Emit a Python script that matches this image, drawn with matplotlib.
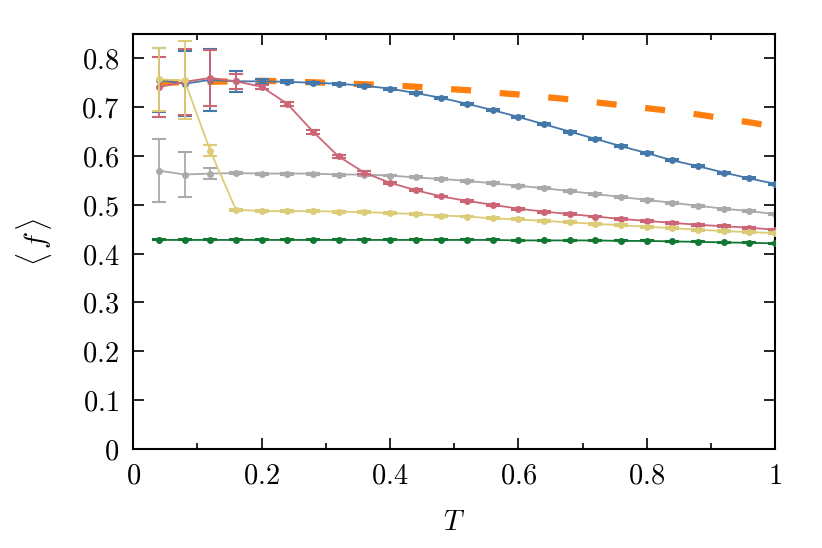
import numpy as np
import matplotlib
matplotlib.use("Agg")
import matplotlib.pyplot as plt
from matplotlib.ticker import MultipleLocator, FuncFormatter

plt.rcParams['mathtext.fontset'] = 'cm'
plt.rcParams['font.family'] = 'serif'

# temperature grid
T = [0.04, 0.08, 0.12, 0.16, 0.20, 0.24, 0.28, 0.32, 0.36, 0.40, 0.44, 0.48, 0.52,
     0.56, 0.60, 0.64, 0.68, 0.72, 0.76, 0.80, 0.84, 0.88, 0.92, 0.96, 1.00]

# theory curve (orange dashed)
f_theory = [0.750, 0.751, 0.752, 0.753, 0.754, 0.753, 0.751, 0.749, 0.747, 0.745, 0.742,
            0.738, 0.735, 0.730, 0.726, 0.721, 0.716, 0.710, 0.704, 0.698, 0.692, 0.685,
            0.677, 0.669, 0.660]

f_blue = [0.756, 0.748, 0.756, 0.753, 0.753, 0.752, 0.750, 0.748, 0.744, 0.738, 0.729,
          0.719, 0.707, 0.694, 0.680, 0.665, 0.650, 0.635, 0.620, 0.606, 0.591, 0.579,
          0.566, 0.554, 0.543]
e_blue = [0.065, 0.067, 0.064, 0.022, 0.005, 0.003, 0.002, 0.002, 0.002, 0.002, 0.002,
          0.002, 0.002, 0.002, 0.002, 0.002, 0.002, 0.002, 0.002, 0.002, 0.002, 0.002,
          0.002, 0.002, 0.002]

f_red = [0.741, 0.752, 0.760, 0.753, 0.742, 0.707, 0.650, 0.599, 0.566, 0.545, 0.530,
         0.517, 0.508, 0.500, 0.492, 0.486, 0.481, 0.476, 0.471, 0.467, 0.463, 0.459,
         0.456, 0.453, 0.449]
e_red = [0.061, 0.068, 0.058, 0.016, 0.004, 0.004, 0.004, 0.003, 0.003, 0.002, 0.002,
         0.002, 0.002, 0.002, 0.002, 0.002, 0.002, 0.002, 0.002, 0.002, 0.002, 0.002,
         0.002, 0.002, 0.002]

f_gray = [0.570, 0.562, 0.564, 0.565, 0.564, 0.564, 0.564, 0.562, 0.562, 0.560, 0.556,
          0.553, 0.549, 0.544, 0.539, 0.534, 0.528, 0.522, 0.516, 0.510, 0.504, 0.498,
          0.492, 0.487, 0.481]
e_gray = [0.065, 0.047, 0.011, 0.002, 0.002, 0.002, 0.002, 0.002, 0.002, 0.002, 0.002,
          0.002, 0.002, 0.002, 0.002, 0.002, 0.002, 0.002, 0.002, 0.002, 0.002, 0.002,
          0.002, 0.002, 0.002]

f_yellow = [0.757, 0.755, 0.611, 0.490, 0.487, 0.487, 0.487, 0.486, 0.485, 0.483, 0.481,
            0.478, 0.476, 0.472, 0.470, 0.467, 0.464, 0.461, 0.458, 0.455, 0.452, 0.449,
            0.446, 0.444, 0.442]
e_yellow = [0.064, 0.080, 0.011, 0.002, 0.002, 0.002, 0.002, 0.002, 0.002, 0.002, 0.002,
            0.002, 0.002, 0.002, 0.002, 0.002, 0.002, 0.002, 0.002, 0.002, 0.002, 0.002,
            0.002, 0.002, 0.002]

f_green = [0.428, 0.428, 0.428, 0.428, 0.428, 0.428, 0.428, 0.428, 0.428, 0.428, 0.428,
           0.428, 0.428, 0.428, 0.427, 0.427, 0.427, 0.427, 0.426, 0.426, 0.425, 0.424,
           0.423, 0.422, 0.421]
e_green = [0.001] * len(T)

fig = plt.figure(figsize=(8.22, 5.48), dpi=100)
ax = fig.add_axes([0.162, 0.181, 0.781, 0.757])

ax.plot(T, f_theory, color='#FF7F0E', lw=4.5, dashes=(3.2, 4.6), zorder=1)

# drawn bottom to top: gray, green, blue, red, yellow
series = [
    (f_gray, e_gray, '#AAAAAA'),
    (f_green, e_green, '#117733'),
    (f_blue, e_blue, '#4477AA'),
    (f_red, e_red, '#CC6677'),
    (f_yellow, e_yellow, '#DDCC77'),
]
for k, (f, e, c) in enumerate(series):
    ax.errorbar(T, f, yerr=e, color=c, marker='o', ms=4, lw=1.3,
                elinewidth=1.3, capsize=5, capthick=1.5, zorder=2 + k)

ax.set_xlim(0, 1)
ax.set_ylim(0, 0.85)
ax.xaxis.set_major_locator(MultipleLocator(0.2))
ax.xaxis.set_minor_locator(MultipleLocator(0.1))
ax.yaxis.set_major_locator(MultipleLocator(0.1))

fmt = FuncFormatter(lambda v, p: '$%g$' % round(v, 2))
ax.xaxis.set_major_formatter(fmt)
ax.yaxis.set_major_formatter(fmt)

ax.tick_params(which='both', direction='in', top=True, right=True, labelsize=20.5)
ax.tick_params(which='major', length=8, width=1.2, pad=10)
ax.tick_params(which='minor', length=4, width=1.2)
for s in ax.spines.values():
    s.set_linewidth(1.5)

ax.set_xlabel(r'$T$', fontsize=20.5, labelpad=14)
ax.set_ylabel(r'$\langle\, f\, \rangle$', fontsize=20.5, labelpad=20)

fig.savefig('out.png', dpi=100)
